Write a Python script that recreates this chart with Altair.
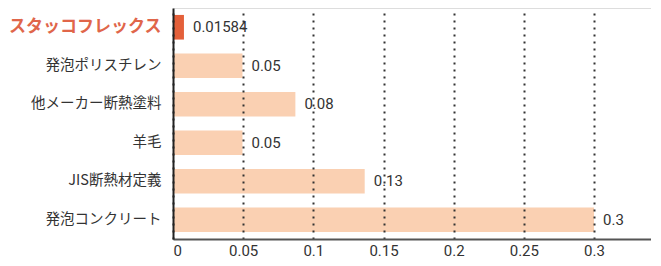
import altair as alt
import pandas as pd

categories = ["スタッコフレックス", "発泡ポリスチレン", "他メーカー断熱塗料", "羊毛", "JIS断熱材定義", "発泡コンクリート"]
bar_values = [0.0078, 0.0495, 0.0872, 0.0495, 0.1366, 0.3]
value_labels = ["0.01584", "0.05", "0.08", "0.05", "0.13", "0.3"]
tick_values = [0, 0.05, 0.1, 0.15, 0.2, 0.25, 0.3]

HL = "スタッコフレックス"
df = pd.DataFrame({"cat": categories, "v": bar_values, "lab": value_labels})

x_scale = alt.Scale(domain=[0, 0.3406], nice=False, zero=True)
y_enc = alt.Y("cat:N", sort=categories, title=None,
              scale=alt.Scale(paddingInner=0.36, paddingOuter=0.18),
              axis=alt.Axis(
                  domainColor="#222222", domainWidth=2, ticks=False,
                  labelPadding=12, labelFont="Noto Sans CJK JP",
                  labelColor={"condition": {"test": f"datum.value == '{HL}'", "value": "#E0664A"}, "value": "#333333"},
                  labelFontSize={"condition": {"test": f"datum.value == '{HL}'", "value": 17}, "value": 14.5},
                  labelFontWeight={"condition": {"test": f"datum.value == '{HL}'", "value": "bold"}, "value": "normal"},
                  grid=False, zindex=2, labelLimit=300))

bars = alt.Chart(df).mark_bar().encode(
    x=alt.X("v:Q", scale=x_scale, title=None,
            axis=alt.Axis(values=tick_values, labelExpr="format(datum.value, '~g')",
                          grid=True, gridDash=[2, 5], gridWidth=2, gridColor="#333333",
                          domainColor="#555555", domainWidth=2, ticks=False,
                          labelFont="Roboto", labelFontSize=15, labelColor="#333333",
                          labelPadding=4, zindex=1)),
    y=y_enc,
    color=alt.condition(alt.datum.cat == HL, alt.value("#E4603A"), alt.value("#FAD0B2")),
)

labels = alt.Chart(df).mark_text(align="left", baseline="middle", dx=9,
                                 font="Roboto", fontSize=15, color="#333333").encode(
    x=alt.X("v:Q", scale=x_scale),
    y=alt.Y("cat:N", sort=categories),
    text="lab:N",
)

chart = (bars + labels).properties(width=478, height=231).configure_view(stroke=None).configure(padding=0)

chart.save("out.html", embed_options={"renderer": "svg", "actions": False})
